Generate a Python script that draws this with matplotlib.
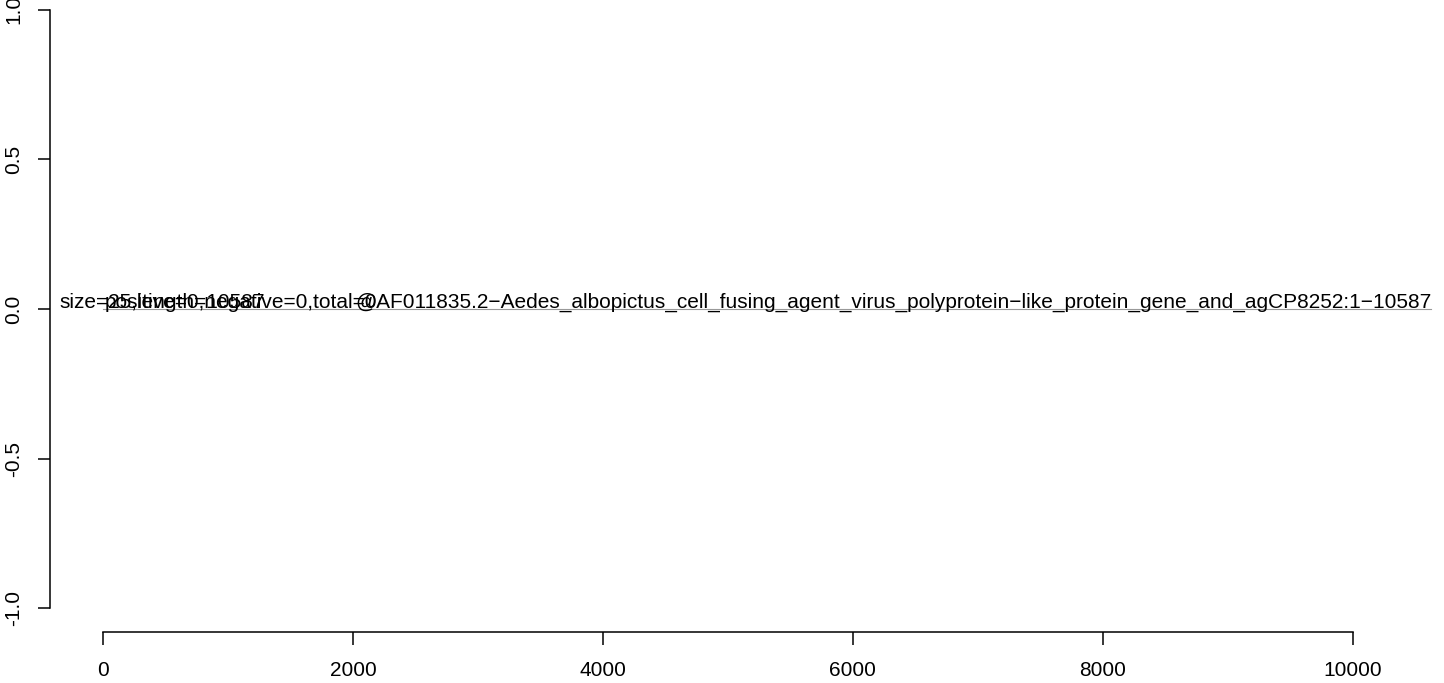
import matplotlib
matplotlib.use("Agg")
import matplotlib.pyplot as plt

# feature span and the labels drawn at it
seq_start = 0
seq_length = 10587
track_y = 0.0
size_label = "size=25,length=10587"
count_label = "positive=0,negative=0,total=0"
feature_label = ("@AF011835.2\u2212Aedes_albopictus_cell_fusing_agent_virus_"
                 "polyprotein\u2212like_protein_gene_and_agCP8252:1\u221210587")

x_ticks = [0, 2000, 4000, 6000, 8000, 10000]
y_ticks = [-1.0, -0.5, 0.0, 0.5, 1.0]

plt.rcParams["font.family"] = ["Liberation Sans", "DejaVu Sans"]

W, H = 1444, 683
fig = plt.figure(figsize=(W / 100, H / 100), dpi=100)

# R-style plot region: 4% padding on both axes
xlo, xhi = seq_start, seq_length
pad_x = 0.04 * (xhi - xlo)
ylo, yhi = -1.0, 1.0
pad_y = 0.04 * (yhi - ylo)

left_px, right_px = 50, 1479
top_px, bottom_px = -14, 632
ax = fig.add_axes([left_px / W, (H - bottom_px) / H,
                   (right_px - left_px) / W, (bottom_px - top_px) / H])
ax.set_xlim(xlo - pad_x, xhi + pad_x)
ax.set_ylim(ylo - pad_y, yhi + pad_y)

ax.plot([seq_start, seq_length + 40], [track_y, track_y], color="#999999", lw=0.8, zorder=1)

fs = 15
ax.text(-345, track_y + 0.005, size_label, fontsize=fs, ha="left", va="baseline", zorder=2)
ax.text(15, track_y + 0.005, count_label, fontsize=fs, ha="left", va="baseline", zorder=2)
ax.text(seq_length + 45, track_y + 0.005, feature_label, fontsize=fs, ha="right",
        va="baseline", zorder=2)

for s in ["top", "right"]:
    ax.spines[s].set_visible(False)
ax.spines["left"].set_bounds(y_ticks[0], y_ticks[-1])
ax.spines["bottom"].set_bounds(x_ticks[0], x_ticks[-1])
ax.spines["left"].set_linewidth(1.1)
ax.spines["bottom"].set_linewidth(1.1)

ax.set_xticks(x_ticks)
ax.set_xticklabels([str(v) for v in x_ticks])
ax.set_yticks(y_ticks)
ax.set_yticklabels([f"{v:.1f}" for v in y_ticks], rotation=90, va="center")
ax.tick_params(axis="x", length=9, width=1.1, pad=12, labelsize=fs)
ax.tick_params(axis="y", length=9, width=1.1, pad=10, labelsize=fs)

fig.savefig("out.png", dpi=100)
